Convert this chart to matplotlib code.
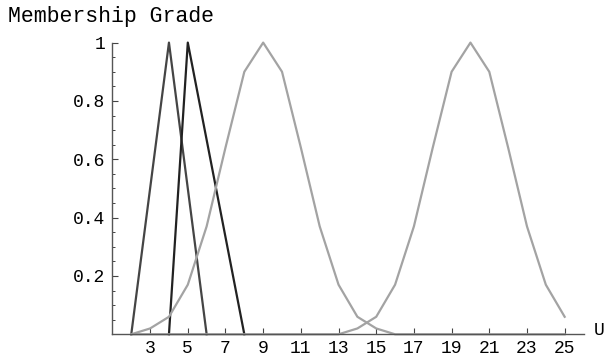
import matplotlib
matplotlib.use("Agg")
import matplotlib.pyplot as plt
from matplotlib.ticker import MultipleLocator

# data
tri_a_x = [2, 4, 6]
tri_a_y = [0, 1, 0]
tri_b_x = [4, 5, 8]
tri_b_y = [0, 1, 0]

u = list(range(2, 26))
gauss_a = [0.0, 0.02, 0.06, 0.17, 0.37, 0.64, 0.9, 1.0, 0.9, 0.64, 0.37, 0.17,
           0.06, 0.02, 0.0, 0.0, 0.0, 0.0, 0.0, 0.0, 0.0, 0.0, 0.0, 0.0]
gauss_b = [0.0, 0.0, 0.0, 0.0, 0.0, 0.0, 0.0, 0.0, 0.0, 0.0, 0.0, 0.0,
           0.02, 0.06, 0.17, 0.37, 0.64, 0.9, 1.0, 0.9, 0.64, 0.37, 0.17, 0.06]

x_ticks = list(range(3, 26, 2))
y_ticks = [0.2, 0.4, 0.6, 0.8, 1]
y_tick_labels = ["0.2", "0.4", "0.6", "0.8", "1"]

plt.rcParams["font.family"] = ["Liberation Mono", "DejaVu Sans Mono"]
plt.rcParams["font.size"] = 13

fig = plt.figure(figsize=(6.11, 3.61), dpi=100)
ax = fig.add_axes([0.184, 0.074, 0.771, 0.808])

ax.plot(tri_a_x, tri_a_y, color="#454545", lw=1.6, clip_on=False)
ax.plot(tri_b_x, tri_b_y, color="#222222", lw=1.6, clip_on=False)
ax.plot(u, gauss_a, color="#a3a3a3", lw=1.6, clip_on=False)
ax.plot(u, gauss_b, color="#a3a3a3", lw=1.6, clip_on=False)

ax.set_xlim(1, 26)
ax.set_ylim(0, 1.0)
ax.set_xticks(x_ticks)
ax.set_yticks(y_ticks)
ax.set_yticklabels(y_tick_labels)
ax.yaxis.set_minor_locator(MultipleLocator(0.05))

for side in ["top", "right"]:
    ax.spines[side].set_visible(False)
for side in ["left", "bottom"]:
    ax.spines[side].set_color("#555555")
    ax.spines[side].set_linewidth(1.0)

ax.tick_params(axis="both", which="major", direction="in", length=4, width=0.8,
               color="#444444")
ax.tick_params(axis="y", which="minor", direction="in", length=2.5, width=0.7,
               color="#444444")
ax.tick_params(axis="x", pad=4)
ax.tick_params(axis="y", pad=5)

fig.text(0.013, 0.955, "Membership Grade", fontsize=15.5, ha="left", va="center")
fig.text(0.99, 0.085, "U", fontsize=13, ha="right", va="center")

fig.savefig("out.png", dpi=100)
